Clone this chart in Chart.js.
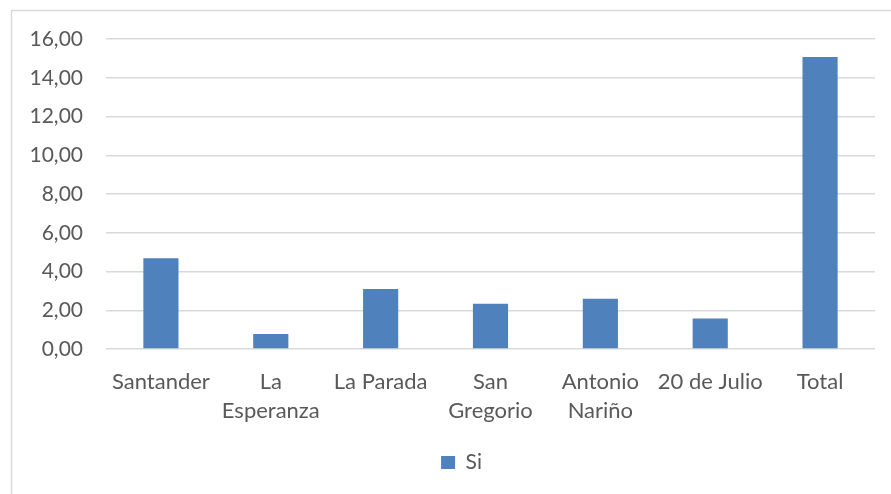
<!DOCTYPE html>
<html>
<head>
<meta charset="utf-8">
<script src="https://cdn.jsdelivr.net/npm/chart.js@4"></script>
<style>
  body { margin: 0; background: #fff; }
  canvas { display: block; }
</style>
</head>
<body>
<canvas id="siChart" width="891" height="494"></canvas>
<script>
// Values
const barrios = [
    'Santander',
    ['La', 'Esperanza'],
    'La Parada',
    ['San', 'Gregorio'],
    ['Antonio', 'Nariño'],
    '20 de Julio',
    'Total'
];
const siValues = [4.68, 0.78, 3.10, 2.34, 2.60, 1.58, 15.07];
const yTicks = [0, 2, 4, 6, 8, 10, 12, 14, 16];

// Light gray frame around the chart, like the spreadsheet chart box
const frame = {
    id: 'frame',
    beforeDraw(chart) {
        const ctx = chart.ctx;
        ctx.save();
        ctx.strokeStyle = '#d9d9d9';
        ctx.lineWidth = 1.5;
        ctx.strokeRect(11.5, 10.5, 920, 520);
        ctx.restore();
    }
};

// The legend in the original is centred on the (wider) chart box, not the canvas
const legendShift = {
    id: 'legendShift',
    afterLayout(chart) {
        chart.legend.left += 24;
        chart.legend.right += 24;
    }
};

const ctx = document.getElementById('siChart').getContext('2d');
new Chart(ctx, {
    type: 'bar',
    data: {
        labels: barrios,
        datasets: [{
            label: 'Si',
            data: siValues,
            backgroundColor: '#4f81bd',
            borderWidth: 0,
            barPercentage: 0.32,
            categoryPercentage: 1
        }]
    },
    options: {
        responsive: false,
        animation: false,
        layout: {
            padding: { top: 39, right: 16, left: 0, bottom: 11 }
        },
        plugins: {
            legend: {
                position: 'bottom',
                labels: {
                    color: '#595959',
                    font: { family: 'Lato', size: 21 },
                    boxWidth: 14,
                    boxHeight: 13,
                    padding: 6
                }
            },
            tooltip: { enabled: false }
        },
        scales: {
            x: {
                grid: { display: false },
                border: { display: false },
                ticks: {
                    color: '#595959',
                    font: { family: 'Lato', size: 22, lineHeight: 1.3 },
                    maxRotation: 0,
                    autoSkip: false,
                    padding: 11
                },
                afterFit: s => { s.height = 97; }
            },
            y: {
                min: 0,
                max: 16,
                afterBuildTicks: s => { s.ticks = yTicks.map(v => ({ value: v })); },
                grid: { color: '#d9d9d9', lineWidth: 1.5, drawTicks: false },
                border: { display: false },
                ticks: {
                    color: '#595959',
                    font: { family: 'Lato', size: 21 },
                    padding: 23,
                    callback: v => v.toFixed(2).replace('.', ',')
                },
                afterFit: s => { s.width = 106; }
            }
        }
    },
    plugins: [frame, legendShift]
});
</script>
</body>
</html>
